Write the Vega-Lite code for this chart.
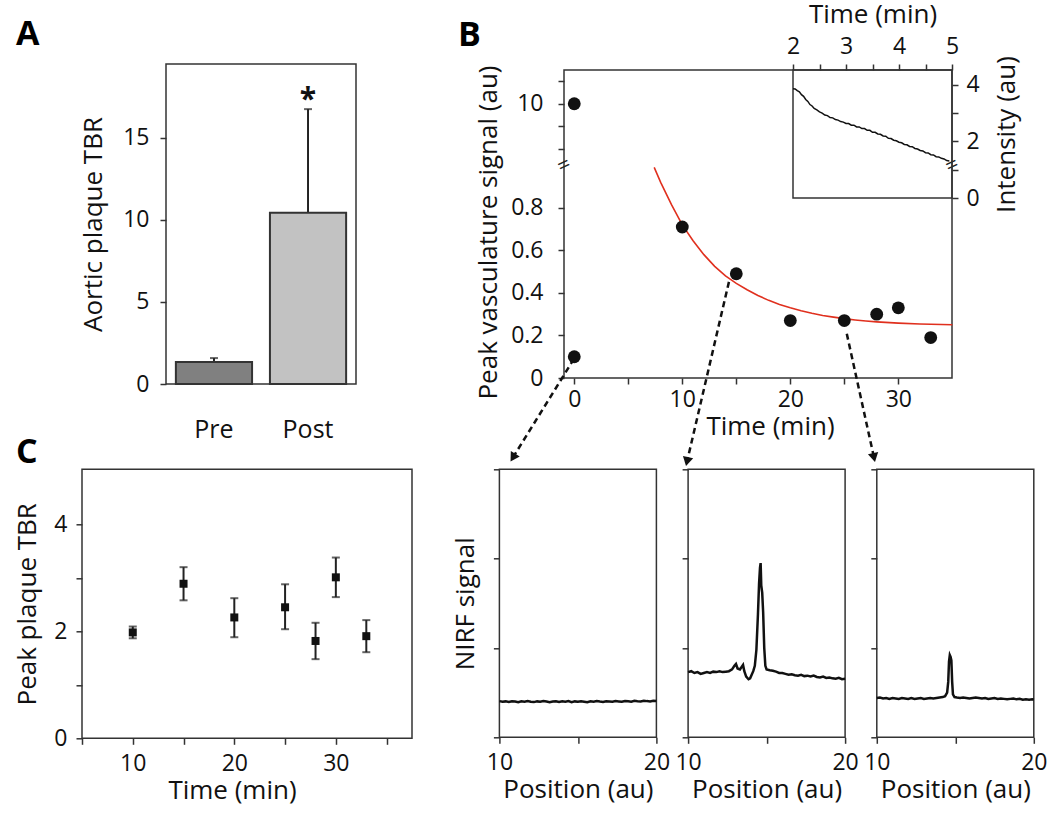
{
  "$schema": "https://vega.github.io/schema/vega-lite/v6.json",
  "background": "white",
  "padding": {"left": 14, "top": 0, "right": 5, "bottom": 5},
  "config": {
    "font": "Open Sans",
    "view": {"stroke": "#333", "strokeWidth": 1.5},
    "axis": {"grid": false, "domain": false, "tickColor": "#333", "tickWidth": 1.5, "tickSize": 6,
      "labelFont": "Open Sans", "labelFontSize": 23, "labelColor": "#111",
      "titleFont": "Open Sans", "titleFontSize": 26, "titleFontWeight": "normal", "titleColor": "#111",
      "labelFlush": false, "labelOverlap": false, "labelBound": false},
    "title": {"font": "Open Sans", "fontSize": 34, "fontWeight": "bold", "color": "#000", "anchor": "start", "frame": "group"}
  },
  "datasets": {
    "bars": [{"cond": "Pre", "tbr": 1.34, "hi": 1.58}, {"cond": "Post", "tbr": 10.43, "hi": 16.75}],
    "vasc": [{"t": 0, "v": 0.1}, {"t": 10, "v": 0.71}, {"t": 15, "v": 0.49}, {"t": 20, "v": 0.27}, {"t": 25, "v": 0.27}, {"t": 28, "v": 0.30}, {"t": 30, "v": 0.33}, {"t": 33, "v": 0.19}],
    "vascHigh": [{"t": 0, "v": 10}],
    "fit": [{"t": 7.4, "v": 0.99}, {"t": 8, "v": 0.92}, {"t": 9, "v": 0.815}, {"t": 10, "v": 0.72}, {"t": 11, "v": 0.645}, {"t": 12, "v": 0.58}, {"t": 13, "v": 0.525}, {"t": 14, "v": 0.48}, {"t": 15, "v": 0.445}, {"t": 16, "v": 0.415}, {"t": 17, "v": 0.388}, {"t": 18, "v": 0.365}, {"t": 19, "v": 0.346}, {"t": 20, "v": 0.33}, {"t": 21, "v": 0.316}, {"t": 22, "v": 0.304}, {"t": 23, "v": 0.294}, {"t": 24, "v": 0.286}, {"t": 25, "v": 0.279}, {"t": 26, "v": 0.273}, {"t": 27, "v": 0.268}, {"t": 28, "v": 0.264}, {"t": 30, "v": 0.258}, {"t": 32, "v": 0.254}, {"t": 35, "v": 0.25}],
    "arrows": [{"id": 1, "t0": -0.03, "v0": 0.09, "t1": -5.68, "v1": -0.374}, {"id": 2, "t0": 14.32, "v0": 0.452, "t1": 10.44, "v1": -0.393}, {"id": 3, "t0": 25.23, "v0": 0.208, "t1": 27.75, "v1": -0.374}],
    "inset": [{"x": 2.0, "y": 3.86}, {"x": 2.04, "y": 3.85}, {"x": 2.08, "y": 3.79}, {"x": 2.12, "y": 3.75}, {"x": 2.16, "y": 3.65}, {"x": 2.2, "y": 3.59}, {"x": 2.24, "y": 3.48}, {"x": 2.28, "y": 3.41}, {"x": 2.32, "y": 3.30}, {"x": 2.36, "y": 3.25}, {"x": 2.4, "y": 3.16}, {"x": 2.45, "y": 3.11}, {"x": 2.5, "y": 3.04}, {"x": 2.55, "y": 3.00}, {"x": 2.6, "y": 2.93}, {"x": 2.65, "y": 2.91}, {"x": 2.7, "y": 2.84}, {"x": 2.75, "y": 2.83}, {"x": 2.8, "y": 2.77}, {"x": 2.85, "y": 2.75}, {"x": 2.9, "y": 2.70}, {"x": 2.95, "y": 2.68}, {"x": 3.0, "y": 2.63}, {"x": 3.05, "y": 2.63}, {"x": 3.1, "y": 2.57}, {"x": 3.15, "y": 2.57}, {"x": 3.2, "y": 2.51}, {"x": 3.25, "y": 2.51}, {"x": 3.3, "y": 2.45}, {"x": 3.35, "y": 2.45}, {"x": 3.4, "y": 2.39}, {"x": 3.45, "y": 2.39}, {"x": 3.5, "y": 2.32}, {"x": 3.55, "y": 2.32}, {"x": 3.6, "y": 2.26}, {"x": 3.65, "y": 2.25}, {"x": 3.7, "y": 2.19}, {"x": 3.75, "y": 2.18}, {"x": 3.8, "y": 2.11}, {"x": 3.85, "y": 2.10}, {"x": 3.9, "y": 2.04}, {"x": 3.95, "y": 2.02}, {"x": 4.0, "y": 1.97}, {"x": 4.05, "y": 1.95}, {"x": 4.1, "y": 1.89}, {"x": 4.15, "y": 1.88}, {"x": 4.2, "y": 1.82}, {"x": 4.25, "y": 1.81}, {"x": 4.3, "y": 1.75}, {"x": 4.35, "y": 1.73}, {"x": 4.4, "y": 1.68}, {"x": 4.45, "y": 1.66}, {"x": 4.5, "y": 1.60}, {"x": 4.55, "y": 1.59}, {"x": 4.6, "y": 1.53}, {"x": 4.65, "y": 1.52}, {"x": 4.7, "y": 1.46}, {"x": 4.75, "y": 1.45}, {"x": 4.8, "y": 1.40}, {"x": 4.85, "y": 1.38}, {"x": 4.9, "y": 1.32}, {"x": 4.95, "y": 1.31}],
    "plaque": [{"t": 10, "m": 1.98, "lo": 1.87, "hi": 2.09}, {"t": 15, "m": 2.89, "lo": 2.58, "hi": 3.2}, {"t": 20, "m": 2.26, "lo": 1.89, "hi": 2.62}, {"t": 25, "m": 2.45, "lo": 2.04, "hi": 2.88}, {"t": 28, "m": 1.82, "lo": 1.48, "hi": 2.16}, {"t": 30, "m": 3.01, "lo": 2.64, "hi": 3.38}, {"t": 33, "m": 1.91, "lo": 1.61, "hi": 2.21}],
    "nirf1": [{"pos": 10.0, "sig": 0.405}, {"pos": 10.2, "sig": 0.398}, {"pos": 10.4, "sig": 0.402}, {"pos": 10.6, "sig": 0.395}, {"pos": 10.8, "sig": 0.404}, {"pos": 11.0, "sig": 0.400}, {"pos": 11.2, "sig": 0.393}, {"pos": 11.4, "sig": 0.403}, {"pos": 11.6, "sig": 0.398}, {"pos": 11.8, "sig": 0.406}, {"pos": 12.0, "sig": 0.399}, {"pos": 12.2, "sig": 0.394}, {"pos": 12.4, "sig": 0.402}, {"pos": 12.6, "sig": 0.397}, {"pos": 12.8, "sig": 0.405}, {"pos": 13.0, "sig": 0.400}, {"pos": 13.2, "sig": 0.392}, {"pos": 13.4, "sig": 0.401}, {"pos": 13.6, "sig": 0.404}, {"pos": 13.8, "sig": 0.396}, {"pos": 14.0, "sig": 0.403}, {"pos": 14.2, "sig": 0.398}, {"pos": 14.4, "sig": 0.405}, {"pos": 14.6, "sig": 0.394}, {"pos": 14.8, "sig": 0.402}, {"pos": 15.0, "sig": 0.397}, {"pos": 15.2, "sig": 0.404}, {"pos": 15.4, "sig": 0.399}, {"pos": 15.6, "sig": 0.393}, {"pos": 15.8, "sig": 0.403}, {"pos": 16.0, "sig": 0.398}, {"pos": 16.2, "sig": 0.406}, {"pos": 16.4, "sig": 0.400}, {"pos": 16.6, "sig": 0.395}, {"pos": 16.8, "sig": 0.404}, {"pos": 17.0, "sig": 0.401}, {"pos": 17.2, "sig": 0.397}, {"pos": 17.4, "sig": 0.406}, {"pos": 17.6, "sig": 0.402}, {"pos": 17.8, "sig": 0.398}, {"pos": 18.0, "sig": 0.407}, {"pos": 18.2, "sig": 0.403}, {"pos": 18.4, "sig": 0.399}, {"pos": 18.6, "sig": 0.408}, {"pos": 18.8, "sig": 0.404}, {"pos": 19.0, "sig": 0.401}, {"pos": 19.2, "sig": 0.409}, {"pos": 19.4, "sig": 0.405}, {"pos": 19.6, "sig": 0.402}, {"pos": 19.8, "sig": 0.410}, {"pos": 20.0, "sig": 0.407}],
    "nirf2": [{"pos": 10.0, "sig": 0.73}, {"pos": 10.2, "sig": 0.74}, {"pos": 10.4, "sig": 0.72}, {"pos": 10.6, "sig": 0.73}, {"pos": 10.8, "sig": 0.71}, {"pos": 11.0, "sig": 0.72}, {"pos": 11.2, "sig": 0.73}, {"pos": 11.4, "sig": 0.72}, {"pos": 11.6, "sig": 0.735}, {"pos": 11.8, "sig": 0.73}, {"pos": 12.0, "sig": 0.74}, {"pos": 12.2, "sig": 0.73}, {"pos": 12.4, "sig": 0.735}, {"pos": 12.6, "sig": 0.74}, {"pos": 12.8, "sig": 0.76}, {"pos": 12.95, "sig": 0.80}, {"pos": 13.05, "sig": 0.82}, {"pos": 13.15, "sig": 0.77}, {"pos": 13.3, "sig": 0.76}, {"pos": 13.42, "sig": 0.79}, {"pos": 13.5, "sig": 0.81}, {"pos": 13.58, "sig": 0.74}, {"pos": 13.7, "sig": 0.68}, {"pos": 13.85, "sig": 0.65}, {"pos": 13.95, "sig": 0.66}, {"pos": 14.05, "sig": 0.70}, {"pos": 14.15, "sig": 0.74}, {"pos": 14.25, "sig": 0.80}, {"pos": 14.35, "sig": 0.98}, {"pos": 14.45, "sig": 1.38}, {"pos": 14.52, "sig": 1.72}, {"pos": 14.58, "sig": 1.90}, {"pos": 14.62, "sig": 1.95}, {"pos": 14.66, "sig": 1.70}, {"pos": 14.72, "sig": 1.62}, {"pos": 14.78, "sig": 1.40}, {"pos": 14.85, "sig": 1.00}, {"pos": 14.92, "sig": 0.80}, {"pos": 15.0, "sig": 0.76}, {"pos": 15.2, "sig": 0.75}, {"pos": 15.4, "sig": 0.745}, {"pos": 15.6, "sig": 0.735}, {"pos": 15.8, "sig": 0.72}, {"pos": 16.0, "sig": 0.72}, {"pos": 16.2, "sig": 0.71}, {"pos": 16.4, "sig": 0.70}, {"pos": 16.6, "sig": 0.705}, {"pos": 16.8, "sig": 0.695}, {"pos": 17.0, "sig": 0.69}, {"pos": 17.2, "sig": 0.70}, {"pos": 17.4, "sig": 0.685}, {"pos": 17.6, "sig": 0.69}, {"pos": 17.8, "sig": 0.68}, {"pos": 18.0, "sig": 0.69}, {"pos": 18.2, "sig": 0.675}, {"pos": 18.4, "sig": 0.67}, {"pos": 18.6, "sig": 0.68}, {"pos": 18.8, "sig": 0.665}, {"pos": 19.0, "sig": 0.67}, {"pos": 19.2, "sig": 0.66}, {"pos": 19.4, "sig": 0.655}, {"pos": 19.6, "sig": 0.665}, {"pos": 19.8, "sig": 0.65}, {"pos": 20.0, "sig": 0.655}],
    "nirf3": [{"pos": 10.0, "sig": 0.44}, {"pos": 10.2, "sig": 0.445}, {"pos": 10.4, "sig": 0.435}, {"pos": 10.6, "sig": 0.44}, {"pos": 10.8, "sig": 0.43}, {"pos": 11.0, "sig": 0.44}, {"pos": 11.2, "sig": 0.435}, {"pos": 11.4, "sig": 0.43}, {"pos": 11.6, "sig": 0.44}, {"pos": 11.8, "sig": 0.435}, {"pos": 12.0, "sig": 0.43}, {"pos": 12.2, "sig": 0.44}, {"pos": 12.4, "sig": 0.43}, {"pos": 12.6, "sig": 0.435}, {"pos": 12.8, "sig": 0.44}, {"pos": 13.0, "sig": 0.43}, {"pos": 13.2, "sig": 0.435}, {"pos": 13.4, "sig": 0.44}, {"pos": 13.6, "sig": 0.435}, {"pos": 13.8, "sig": 0.44}, {"pos": 14.0, "sig": 0.445}, {"pos": 14.2, "sig": 0.45}, {"pos": 14.35, "sig": 0.46}, {"pos": 14.48, "sig": 0.50}, {"pos": 14.55, "sig": 0.62}, {"pos": 14.6, "sig": 0.85}, {"pos": 14.65, "sig": 0.92}, {"pos": 14.7, "sig": 0.90}, {"pos": 14.75, "sig": 0.86}, {"pos": 14.8, "sig": 0.62}, {"pos": 14.85, "sig": 0.48}, {"pos": 14.95, "sig": 0.45}, {"pos": 15.1, "sig": 0.445}, {"pos": 15.3, "sig": 0.44}, {"pos": 15.5, "sig": 0.445}, {"pos": 15.7, "sig": 0.44}, {"pos": 15.9, "sig": 0.435}, {"pos": 16.1, "sig": 0.44}, {"pos": 16.3, "sig": 0.445}, {"pos": 16.5, "sig": 0.44}, {"pos": 16.7, "sig": 0.435}, {"pos": 16.9, "sig": 0.44}, {"pos": 17.1, "sig": 0.43}, {"pos": 17.3, "sig": 0.435}, {"pos": 17.5, "sig": 0.44}, {"pos": 17.7, "sig": 0.43}, {"pos": 17.9, "sig": 0.435}, {"pos": 18.1, "sig": 0.43}, {"pos": 18.3, "sig": 0.425}, {"pos": 18.5, "sig": 0.43}, {"pos": 18.7, "sig": 0.435}, {"pos": 18.9, "sig": 0.425}, {"pos": 19.1, "sig": 0.43}, {"pos": 19.3, "sig": 0.42}, {"pos": 19.5, "sig": 0.425}, {"pos": 19.7, "sig": 0.42}, {"pos": 19.9, "sig": 0.425}, {"pos": 20.0, "sig": 0.42}]
  },
  "spacing": -31.7,
  "vconcat": [
    {
      "hconcat": [
        {
          "width": 64, "height": 10,
          "data": {"values": [{}]},
          "mark": {"type": "text", "text": ""},
          "encoding": {},
          "view": {"stroke": null}
        },
        {
          "width": 190, "height": 320,
          "title": {"text": "A", "dx": -150, "offset": 17, "dy": 32, "baseline": "alphabetic"},
          "data": {"name": "bars"},
          "encoding": {
            "x": {"field": "cond", "type": "nominal", "sort": ["Pre", "Post"],
              "scale": {"paddingInner": 0.19, "paddingOuter": 0.105},
              "axis": {"title": null, "ticks": false, "tickSize": 0, "labelPadding": 33, "labelAngle": 0, "labelFontSize": 25}}
          },
          "layer": [
            {"mark": {"type": "rule", "color": "#222", "strokeWidth": 2},
              "encoding": {
                "y": {"field": "tbr", "type": "quantitative", "scale": {"domain": [0, 19.5], "nice": false},
                  "axis": {"values": [0, 5, 10, 15], "title": "Aortic plaque TBR", "labelPadding": 11, "titlePadding": 16}},
                "y2": {"field": "hi"}}},
            {"mark": {"type": "bar", "stroke": "#333", "strokeWidth": 2},
              "encoding": {
                "y": {"field": "tbr", "type": "quantitative"},
                "color": {"field": "cond", "type": "nominal", "scale": {"domain": ["Pre", "Post"], "range": ["#808080", "#c2c2c2"]}, "legend": null}}},
            {"mark": {"type": "tick", "orient": "horizontal", "color": "#222", "size": 8, "thickness": 2},
              "encoding": {"y": {"field": "hi", "type": "quantitative"}}},
            {"transform": [{"filter": "datum.cond == 'Post'"}],
              "mark": {"type": "text", "text": "*", "fontSize": 30, "fontWeight": "bold", "baseline": "alphabetic", "dy": 0, "color": "#111"},
              "encoding": {"y": {"field": "hi", "type": "quantitative"}}}
          ]
        },
        {
          "width": 168, "height": 10,
          "data": {"values": [{}]},
          "mark": {"type": "text", "text": ""},
          "encoding": {},
          "view": {"stroke": null}
        },
        {
          "width": 388, "height": 308,
          "title": {"text": "B", "dx": -106, "offset": 0, "dy": 79, "baseline": "alphabetic"},
          "layer": [
            {
              "layer": [
                {"data": {"name": "arrows"},
                  "mark": {"type": "rule", "strokeDash": [6, 4], "strokeWidth": 2.5, "color": "#111"},
                  "encoding": {
                    "x": {"field": "t0", "type": "quantitative", "scale": {"domain": [-0.95, 34.97], "nice": false, "zero": false},
                      "axis": {"values": [0, 5, 10, 15, 20, 25, 30, 35], "labelExpr": "datum.value % 10 == 0 ? datum.label : ''", "title": "Time (min)", "labelPadding": 4, "titlePadding": 2, "titleX": 206}},
                    "y": {"field": "v0", "type": "quantitative", "scale": {"domain": [0, 1.006], "range": [308, 94], "nice": false, "zero": false},
                      "axis": {"values": [0, 0.2, 0.4, 0.6, 0.8], "format": "~g", "title": "Peak vasculature signal (au)", "labelPadding": 15, "titlePadding": 9, "titleY": 162}},
                    "x2": {"field": "t1"}, "y2": {"field": "v1"}}},
                {"data": {"name": "arrows"}, "transform": [{"filter": "datum.id == 1"}],
                  "mark": {"type": "point", "shape": "triangle-down", "filled": true, "size": 110, "color": "#111", "opacity": 1, "angle": 31.6},
                  "encoding": {"x": {"field": "t1", "type": "quantitative"}, "y": {"field": "v1", "type": "quantitative"}}},
                {"data": {"name": "arrows"}, "transform": [{"filter": "datum.id == 2"}],
                  "mark": {"type": "point", "shape": "triangle-down", "filled": true, "size": 110, "color": "#111", "opacity": 1, "angle": 13.1},
                  "encoding": {"x": {"field": "t1", "type": "quantitative"}, "y": {"field": "v1", "type": "quantitative"}}},
                {"data": {"name": "arrows"}, "transform": [{"filter": "datum.id == 3"}],
                  "mark": {"type": "point", "shape": "triangle-down", "filled": true, "size": 110, "color": "#111", "opacity": 1, "angle": -12.3},
                  "encoding": {"x": {"field": "t1", "type": "quantitative"}, "y": {"field": "v1", "type": "quantitative"}}},
                {"data": {"name": "fit"},
                  "mark": {"type": "line", "color": "#e0301e", "strokeWidth": 1.6},
                  "encoding": {"x": {"field": "t", "type": "quantitative"}, "y": {"field": "v", "type": "quantitative"}}},
                {"data": {"name": "vasc"},
                  "mark": {"type": "circle", "size": 165, "color": "#111", "opacity": 1},
                  "encoding": {"x": {"field": "t", "type": "quantitative"}, "y": {"field": "v", "type": "quantitative"}}},
                {"data": {"values": [{}]},
                  "mark": {"type": "text", "text": "=", "fontSize": 22, "angle": -25, "baseline": "middle", "align": "center", "color": "#222"},
                  "encoding": {"x": {"datum": -0.95, "type": "quantitative"}, "y": {"datum": 1.0, "type": "quantitative"}}},
                {"data": {"values": [{}]},
                  "mark": {"type": "text", "text": "=", "fontSize": 22, "angle": -25, "baseline": "middle", "align": "center", "color": "#222"},
                  "encoding": {"x": {"datum": 34.97, "type": "quantitative"}, "y": {"datum": 1.0, "type": "quantitative"}}}
              ]
            },
            {"data": {"name": "vascHigh"},
              "mark": {"type": "circle", "size": 165, "color": "#111", "opacity": 1},
              "encoding": {
                "x": {"field": "t", "type": "quantitative", "scale": {"domain": [-0.95, 34.97], "nice": false, "zero": false}, "axis": null},
                "y": {"field": "v", "type": "quantitative", "scale": {"domain": [7.54, 11.5], "range": [89, 0], "nice": false, "zero": false},
                  "axis": {"orient": "left", "values": [8, 9, 10, 11], "labelExpr": "datum.value == 10 ? '10' : ''", "title": null, "labelPadding": 15}}}},
            {
              "layer": [
                {"data": {"values": [{}]},
                  "mark": {"type": "rect", "filled": false, "color": "#333", "strokeWidth": 1.5},
                  "encoding": {
                    "x": {"datum": 2, "type": "quantitative", "scale": {"domain": [2, 5], "range": [229, 388], "nice": false, "zero": false},
                      "axis": {"orient": "top", "values": [2, 2.5, 3, 3.5, 4, 4.5, 5], "labelExpr": "datum.value % 1 == 0 ? format(datum.value, 'd') : ''", "title": "Time (min)", "labelPadding": 6, "titlePadding": 8}},
                    "x2": {"datum": 5},
                    "y": {"datum": 0, "type": "quantitative", "scale": {"domain": [0, 4.52], "range": [128, 0], "nice": false, "zero": false},
                      "axis": {"orient": "right", "values": [0, 1, 2, 3, 4], "labelExpr": "datum.value % 2 == 0 ? format(datum.value, 'd') : ''", "title": "Intensity (au)", "titleAngle": 270, "titleBaseline": "top", "labelPadding": 8, "titlePadding": 14}},
                    "y2": {"datum": 4.52}}},
                {"data": {"name": "inset"},
                  "mark": {"type": "line", "color": "#111", "strokeWidth": 1.5},
                  "encoding": {"x": {"field": "x", "type": "quantitative"}, "y": {"field": "y", "type": "quantitative"}}}
              ]
            }
          ],
          "resolve": {"scale": {"x": "independent", "y": "independent"}, "axis": {"x": "independent", "y": "independent"}}
        }
      ],
      "spacing": 20, "bounds": "flush", "center": true
    },
    {
      "hconcat": [
        {
          "width": 330, "height": 269,
          "title": {"text": "C", "dx": -66, "offset": 9, "dy": 37, "baseline": "alphabetic"},
          "data": {"name": "plaque"},
          "layer": [
            {"mark": {"type": "rule", "color": "#222", "strokeWidth": 2},
              "encoding": {
                "x": {"field": "t", "type": "quantitative", "scale": {"domain": [5, 37.5], "nice": false, "zero": false},
                  "axis": {"values": [5, 10, 15, 20, 25, 30, 35], "labelExpr": "datum.value % 10 == 0 ? datum.label : ''", "title": "Time (min)", "labelPadding": 8, "titlePadding": 2, "titleX": 150}},
                "y": {"field": "lo", "type": "quantitative", "scale": {"domain": [0, 5.03], "nice": false},
                  "axis": {"values": [0, 1, 2, 3, 4], "labelExpr": "datum.value % 2 == 0 ? datum.label : ''", "title": "Peak plaque TBR", "labelPadding": 9, "titlePadding": 13}},
                "y2": {"field": "hi"}}},
            {"mark": {"type": "tick", "orient": "horizontal", "size": 8, "thickness": 2, "color": "#222"},
              "encoding": {"x": {"field": "t", "type": "quantitative"}, "y": {"field": "lo", "type": "quantitative"}}},
            {"mark": {"type": "tick", "orient": "horizontal", "size": 8, "thickness": 2, "color": "#222"},
              "encoding": {"x": {"field": "t", "type": "quantitative"}, "y": {"field": "hi", "type": "quantitative"}}},
            {"mark": {"type": "square", "size": 64, "color": "#111", "opacity": 1},
              "encoding": {"x": {"field": "t", "type": "quantitative"}, "y": {"field": "m", "type": "quantitative"}}}
          ]
        },
        {
          "width": 23.9, "height": 10,
          "data": {"values": [{}]},
          "mark": {"type": "text", "text": ""},
          "encoding": {},
          "view": {"stroke": null}
        },
        {
          "width": 157, "height": 268,
          "data": {"name": "nirf1"},
          "mark": {"type": "line", "color": "#111", "strokeWidth": 2.5},
          "encoding": {
            "x": {"field": "pos", "type": "quantitative", "scale": {"domain": [10, 20], "nice": false, "zero": false},
              "axis": {"values": [10, 15, 20], "labelExpr": "datum.value == 15 ? '' : datum.label", "title": "Position (au)", "labelPadding": 8, "titlePadding": 2}},
            "y": {"field": "sig", "type": "quantitative", "scale": {"domain": [0, 3], "nice": false},
              "axis": {"values": [0, 1, 2, 3], "labels": false, "title": "NIRF signal", "titlePadding": 14}}
          }
        },
        {
          "width": 157, "height": 268,
          "data": {"name": "nirf2"},
          "mark": {"type": "line", "color": "#111", "strokeWidth": 2.5},
          "encoding": {
            "x": {"field": "pos", "type": "quantitative", "scale": {"domain": [10, 20], "nice": false, "zero": false},
              "axis": {"values": [10, 15, 20], "labelExpr": "datum.value == 15 ? '' : datum.label", "title": "Position (au)", "labelPadding": 8, "titlePadding": 2}},
            "y": {"field": "sig", "type": "quantitative", "scale": {"domain": [0, 3], "nice": false},
              "axis": {"values": [0, 1, 2, 3], "labels": false, "title": null}}
          }
        },
        {
          "width": 157, "height": 268,
          "data": {"name": "nirf3"},
          "mark": {"type": "line", "color": "#111", "strokeWidth": 2.5},
          "encoding": {
            "x": {"field": "pos", "type": "quantitative", "scale": {"domain": [10, 20], "nice": false, "zero": false},
              "axis": {"values": [10, 15, 20], "labelExpr": "datum.value == 15 ? '' : datum.label", "title": "Position (au)", "labelPadding": 8, "titlePadding": 2}},
            "y": {"field": "sig", "type": "quantitative", "scale": {"domain": [0, 3], "nice": false},
              "axis": {"values": [0, 1, 2, 3], "labels": false, "title": null}}
          }
        }
      ],
      "spacing": 31.7, "bounds": "flush"
    }
  ]
}
